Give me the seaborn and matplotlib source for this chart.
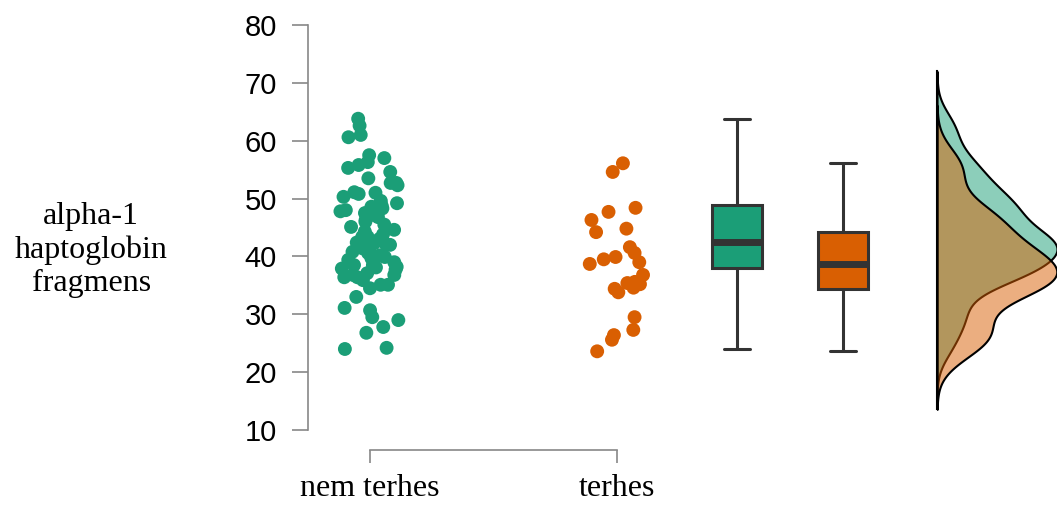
import numpy as np
import pandas as pd
import matplotlib.pyplot as plt
import seaborn as sns

# ---- data ----
groups = ["nem terhes", "terhes"]
colors = ["#1b9e77", "#d95f02"]

nem_terhes = [24.0, 24.2, 26.8, 27.8, 29.0, 29.5, 30.7, 31.1, 33.0, 34.5,
              35.1, 35.1, 35.9, 36.4, 36.4, 36.8, 36.8, 37.1, 37.7, 37.9,
              38.1, 38.2, 38.5, 38.5, 39.0, 39.4, 39.7, 39.9, 40.2, 40.6,
              40.8, 41.0, 41.4, 41.6, 41.8, 42.0, 42.1, 42.3, 42.3, 42.4,
              42.6, 42.8, 43.0, 43.4, 43.4, 43.8, 44.3, 44.6, 45.1, 45.5,
              46.0, 46.3, 46.8, 47.2, 47.5, 47.8, 48.0, 48.3, 48.6, 48.8,
              49.2, 49.6, 50.3, 50.8, 51.0, 51.1, 52.3, 52.7, 52.7, 53.5,
              54.6, 55.3, 55.8, 56.3, 57.0, 57.5, 60.6, 61.0, 62.6, 63.8]
terhes = [23.6, 25.6, 26.4, 27.3, 29.5, 33.8, 34.4, 34.6, 35.2, 35.4,
          35.6, 36.8, 38.7, 39.0, 39.5, 39.9, 40.6, 41.6, 44.2, 44.8,
          46.3, 47.7, 48.4, 54.6, 56.1]

df = pd.DataFrame({
    "group": ["nem terhes"] * len(nem_terhes) + ["terhes"] * len(terhes),
    "value": nem_terhes + terhes,
})

sns.set_style("white")
plt.rcParams["font.family"] = ["Liberation Sans", "DejaVu Sans"]
plt.rcParams["text.color"] = "black"
plt.rcParams["xtick.color"] = "black"
plt.rcParams["ytick.color"] = "black"
np.random.seed(7)

W, H = 1057, 522
fig = plt.figure(figsize=(W / 100, H / 100), dpi=100)


def px_box(x0, x1, y0=25, y1=430):
    return [x0 / W, 1 - y1 / H, (x1 - x0) / W, (y1 - y0) / H]


ax = fig.add_axes(px_box(308.25, 678.75))
ax_box = fig.add_axes(px_box(684, 896))
ax_kde = fig.add_axes(px_box(937, 1057))
for a in (ax, ax_box, ax_kde):
    a.set_facecolor("none")

# ---- points ----
sns.stripplot(data=df, x="group", y="value", hue="group", order=groups,
              hue_order=groups, palette=colors, jitter=0.12, size=10,
              linewidth=0, legend=False, ax=ax)
ax.set_xlim(-0.25, 1.25)
ax.set_ylim(10, 80)
ax.set_yticks(range(10, 81, 10))
ax.set_xlabel("")
ax.set_ylabel("alpha-1\nhaptoglobin\nfragmens", rotation=0, fontsize=23,
              fontfamily="Liberation Serif", ha="center", va="center",
              linespacing=1.2, color="black")
ax.yaxis.set_label_coords(-0.586, 0.444)
sns.despine(ax=ax)
ax.spines["bottom"].set_position(("outward", 14.4))
ax.spines["bottom"].set_bounds(0, 1)
ax.spines["left"].set_bounds(10, 80)
for s in ["left", "bottom"]:
    ax.spines[s].set_color("#888888")
    ax.spines[s].set_linewidth(1.2)
ax.tick_params(axis="y", left=True, length=11.5, width=1.2, color="#888888",
               pad=11, labelsize=21, labelcolor="black")
ax.tick_params(axis="x", bottom=True, length=9.4, width=1.2, color="#888888",
               pad=8, labelsize=23, labelfontfamily="Liberation Serif",
               labelcolor="black")

# ---- box plots ----
sns.boxplot(data=df, x="group", y="value", hue="group", order=groups,
            hue_order=groups, palette=colors, width=0.48, saturation=1,
            linewidth=2.2, linecolor="#333333", showfliers=False,
            medianprops=dict(linewidth=5), legend=False, ax=ax_box)
ax_box.set_xlim(-0.5, 1.5)
ax_box.set_ylim(10, 80)
ax_box.axis("off")

# ---- densities ----
for g, c in zip(groups, colors):
    sns.kdeplot(y=df.loc[df["group"] == g, "value"], fill=True, color=c,
                alpha=0.5, edgecolor="black", linewidth=1.5, bw_adjust=0.75,
                ax=ax_kde)
verts = np.concatenate([p.vertices for coll in ax_kde.collections
                        for p in coll.get_paths()])
ax_kde.set_xlim(0, verts[:, 0].max())
ax_kde.set_ylim(10, 80)
sns.despine(ax=ax_kde, bottom=True)
ax_kde.spines["left"].set_bounds(verts[:, 1].min(), verts[:, 1].max())
ax_kde.spines["left"].set_color("black")
ax_kde.spines["left"].set_linewidth(1.5)
ax_kde.set_xticks([])
ax_kde.set_yticks([])
ax_kde.set_xlabel("")
ax_kde.set_ylabel("")

fig.savefig("out.png", dpi=100)
